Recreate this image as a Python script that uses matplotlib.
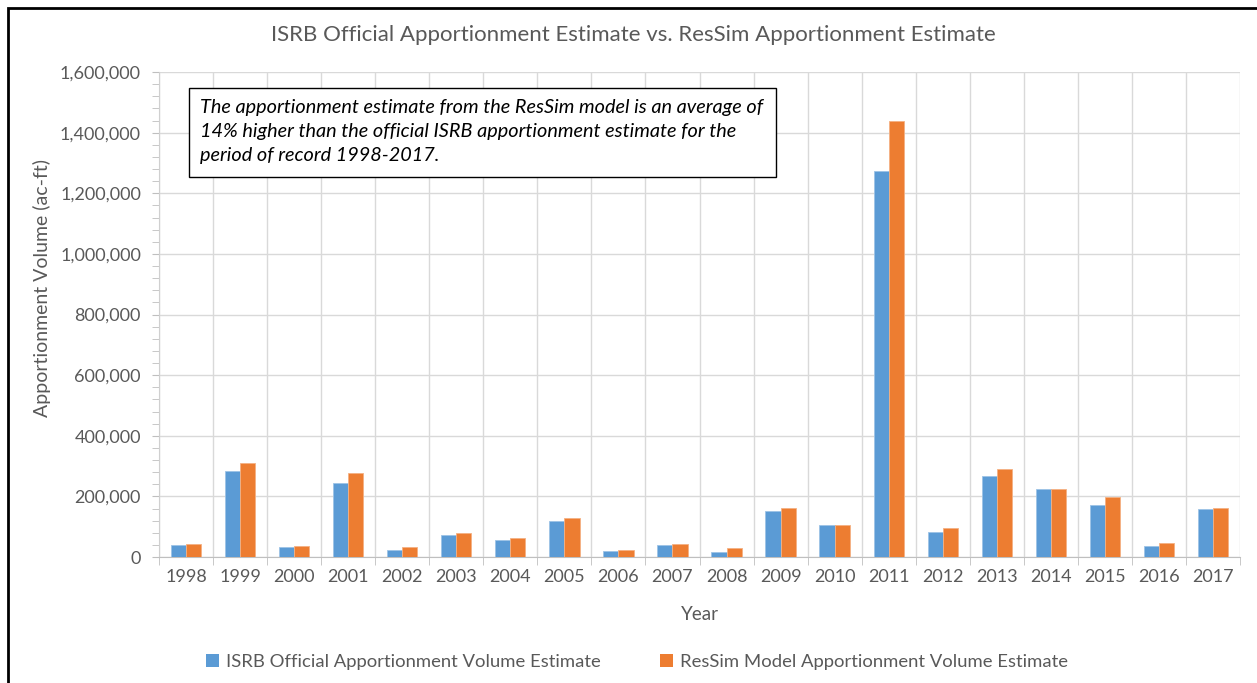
import matplotlib
matplotlib.use("Agg")
import matplotlib.pyplot as plt
from matplotlib.patches import Patch, Rectangle
from matplotlib.ticker import MultipleLocator, FuncFormatter
import numpy as np

years = ["1998", "1999", "2000", "2001", "2002", "2003", "2004", "2005", "2006", "2007",
         "2008", "2009", "2010", "2011", "2012", "2013", "2014", "2015", "2016", "2017"]
isrb = [38500, 283000, 32000, 245000, 24000, 73500, 56000, 118600, 20800, 38500,
        17500, 150500, 104400, 1272000, 81300, 266000, 223000, 171000, 35000, 158000]
ressim = [43000, 309000, 36000, 277000, 33000, 78000, 63600, 129500, 24000, 43000,
          28600, 161500, 104400, 1439000, 95600, 290000, 223000, 196700, 45000, 161500]

title = "ISRB Official Apportionment Estimate vs. ResSim Apportionment Estimate"
ylabel = "Apportionment Volume (ac-ft)"
xlabel = "Year"
series_names = ["ISRB Official Apportionment Volume Estimate",
                "ResSim Model Apportionment Volume Estimate"]
note = ("The apportionment estimate from the ResSim model is an average of\n"
        "14% higher than the official ISRB apportionment estimate for the\n"
        "period of record 1998-2017.")

BLUE = "#5B9BD5"
ORANGE = "#ED7D31"
GRAY = "#595959"
GRID = "#D9D9D9"

plt.rcParams['font.family'] = ['Lato', 'DejaVu Sans']

W, H = 1257, 683
fig = plt.figure(figsize=(W / 100, H / 100), dpi=100)
ax = fig.add_axes([159 / W, (H - 557) / H, (1240 - 159) / W, (557 - 72) / H])

x = np.arange(len(years))
bw = 0.28
ax.bar(x - bw / 2, isrb, bw, color=BLUE, edgecolor="#9DC3E6", linewidth=0.6, zorder=3)
ax.bar(x + bw / 2, ressim, bw, color=ORANGE, edgecolor="#F4B183", linewidth=0.6, zorder=3)

ax.set_xlim(-0.5, len(years) - 0.5)
ax.set_ylim(0, 1600000)

ax.yaxis.set_major_locator(MultipleLocator(200000))
ax.yaxis.set_minor_locator(MultipleLocator(40000))
ax.yaxis.set_major_formatter(FuncFormatter(lambda v, p: f"{int(v):,}"))
ax.tick_params(axis="y", which="both", direction="out", length=5, color="#BFBFBF",
               labelcolor=GRAY, labelsize=13, pad=8)

ax.set_xticks(x)
ax.set_xticklabels(years)
ax.set_xticks(np.arange(-0.5, len(years), 1.0), minor=True)
ax.tick_params(axis="x", which="major", length=0, labelcolor=GRAY, labelsize=13, pad=9)
ax.tick_params(axis="x", which="minor", direction="out", length=6, color="#BFBFBF")

ax.grid(axis="y", which="major", color=GRID, linewidth=1.0, zorder=0)
ax.grid(axis="x", which="minor", color=GRID, linewidth=1.0, zorder=0)

for s in ["top", "right"]:
    ax.spines[s].set_visible(False)
ax.spines["left"].set_color("#D0D0D0")
ax.spines["bottom"].set_color("#BFBFBF")

fig.text(633 / W, 1 - 35 / H, title, ha="center", va="center", fontsize=16, color=GRAY)
fig.text(42 / W, 1 - 288 / H, ylabel, ha="center", va="center", rotation=90,
         fontsize=14, color=GRAY)
fig.text(700 / W, 1 - 614 / H, xlabel, ha="center", va="center", fontsize=13.5, color=GRAY)

# annotation box
fig.patches.append(Rectangle((189 / W, 1 - 177 / H), (776 - 189) / W, (177 - 88) / H,
                             transform=fig.transFigure, facecolor="white",
                             edgecolor="black", linewidth=1.0, zorder=5))
fig.text(200 / W, 1 - 132 / H, note, ha="left", va="center", fontsize=14.3,
         style="italic", color="black", linespacing=1.5, zorder=6)

handles = [Patch(facecolor=BLUE), Patch(facecolor=ORANGE)]
fig.legend(handles, series_names, loc="center", bbox_to_anchor=(637 / W, 1 - 662 / H),
           ncol=2, frameon=False, fontsize=13.3, labelcolor=GRAY, handlelength=0.7,
           handleheight=0.7, handletextpad=0.4, columnspacing=3.2)

# outer border (top and left visible)
fig.patches.append(Rectangle((8 / W, -0.1), 1.2, 1 - 8 / H + 0.1, transform=fig.transFigure,
                             facecolor="none", edgecolor="black", linewidth=2.0, zorder=10))

fig.savefig("out.png", dpi=100, facecolor="white")
